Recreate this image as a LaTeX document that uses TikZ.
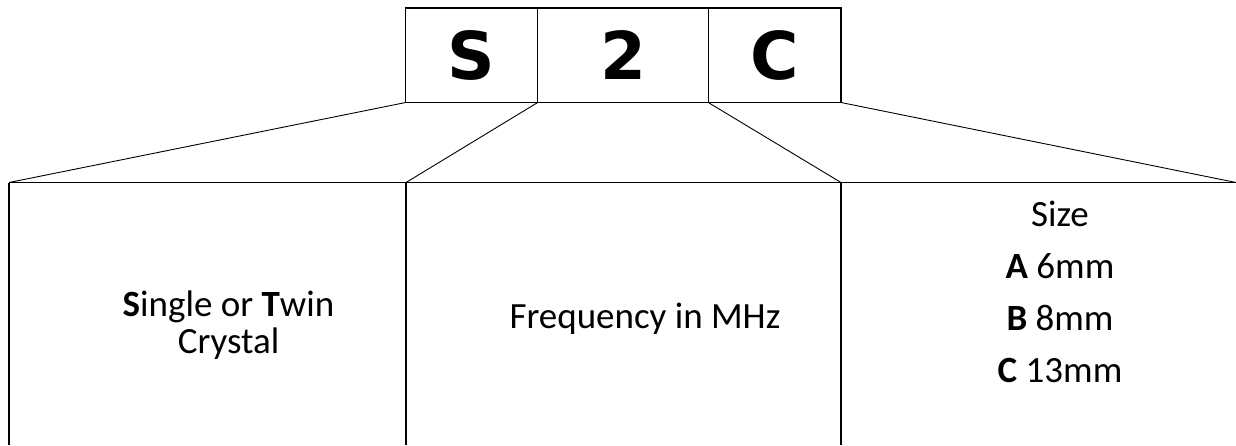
\documentclass[tikz,border=0pt]{standalone}
\usepackage{fontspec}
\setmainfont{Carlito}
\newfontfamily\codefont{DejaVu Sans}
\usepackage{tikz}
\usetikzlibrary{positioning, calc}

\begin{document}
\begin{tikzpicture}[
    x=1pt, y=1pt,
    codebox/.style={draw, line width=1.4pt, outer sep=0pt, inner sep=0pt,
                    minimum height=94.5pt, font=\codefont\bfseries\fontsize{66}{70}\selectfont},
    frame/.style={line width=1.4pt},
    fan/.style={line width=0.9pt},
    desc/.style={align=center, inner sep=0pt, font=\fontsize{37}{37}\selectfont},
    sizelist/.style={align=center, inner sep=0pt, font=\fontsize{37}{52}\selectfont},
    node distance=0pt and 0pt
]
\useasboundingbox (0,0) rectangle (1236,-445);

% Code boxes on top
\node[codebox, minimum width=132pt, anchor=north west] (codeS) at (405.7,-8) {S};
\node[codebox, minimum width=170.6pt, right=of codeS] (code2) {2};
\node[codebox, minimum width=132.7pt, right=of code2] (codeC) {C};

% Top edge of the columns below
\coordinate (col0) at (9,-182.5);
\coordinate (col1) at (406,-182.5);
\coordinate (col2) at (841,-182.5);
\coordinate (col3) at (1236,-182.5);
\coordinate (floor) at (0,-445);

% Column borders (open at the bottom)
\draw[frame] (col0) -- (col3);
\foreach \c in {col0, col1, col2} {
    \draw[frame] (\c) -- (\c |- floor);
}

% Lines fanning out from the code boxes
\draw[fan] (codeS.south west) -- (col0);
\draw[fan] (codeS.south east) -- (col1);
\draw[fan] (codeC.south west) -- (col2);
\draw[fan] (codeC.south east) -- (col3);

% Meaning of each code letter (base = last line)
\node[desc, anchor=base] (kind) at (228.5,-353.4) {\textbf{S}ingle or \textbf{T}win\\Crystal};
\node[desc, anchor=base] (freq) at (645,-328) {Frequency in MHz};
\node[sizelist, anchor=base] (size) at (1060,-382) {Size\\\textbf{A} 6mm\\\textbf{B} 8mm\\\textbf{C} 13mm};

\end{tikzpicture}
\end{document}
